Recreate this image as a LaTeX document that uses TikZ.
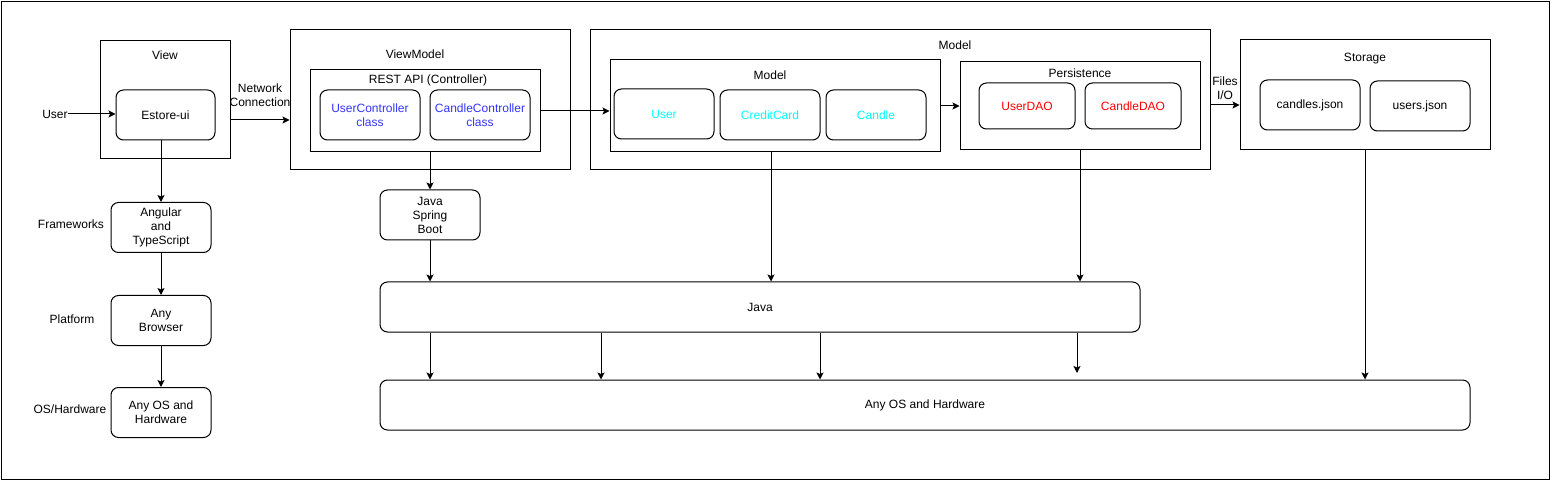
\documentclass[tikz,border=0pt]{standalone}
\usepackage{fontspec}
\setmainfont{Liberation Sans}
\usetikzlibrary{arrows.meta}
\definecolor{ctlblue}{HTML}{3333FF}
\definecolor{mdlcyan}{HTML}{00FFFF}
\definecolor{daored}{HTML}{FF0000}
\tikzset{
  rbox/.style={draw, line width=1pt, rounded corners=7.5pt, minimum width=100pt, minimum height=50pt, align=center, inner sep=0pt, font=\fontsize{12}{14}\selectfont},
  cbox/.style={draw, line width=1pt, inner sep=0pt},
  lbl/.style={inner sep=0pt, align=center, font=\fontsize{12}{14}\selectfont},
  arr/.style={draw, line width=1pt, -{Stealth[length=7pt,width=7pt,inset=1.5pt]}}
}
\begin{document}
\begin{tikzpicture}[x=1pt,y=-1pt]
\useasboundingbox (0,0) rectangle (1551,481);
\node[cbox, minimum width=1548pt, minimum height=478pt] (frame) at (775.5,240.5) {};

% View column
\node[cbox, minimum width=130pt, minimum height=118pt] (view) at (165,100) {};
\node[lbl] (viewt) at (165,55) {View};
\node[rbox, minimum width=99pt] (estore) at (165.5,115) {Estore-ui};
\node[lbl] (user) at (55,114) {User};
\node[rbox] (angular) at (161,227.5) {Angular\\and\\TypeScript};
\node[rbox] (browser) at (161,320.5) {Any\\Browser};
\node[rbox] (oshw) at (161,412.5) {Any OS and\\Hardware};
\node[lbl] (fw) at (71,224) {Frameworks};
\node[lbl] (pf) at (72,319) {Platform};
\node[lbl] (oh) at (70,409) {OS/Hardware};
\node[lbl] (netc) at (260,95) {Network\\Connection};

% ViewModel
\node[cbox, minimum width=280pt, minimum height=140pt] (vm) at (430,100) {};
\node[lbl] (vmt) at (415,54) {ViewModel};
\node[cbox, minimum width=230pt, minimum height=82pt] (rest) at (425,111) {};
\node[lbl] (restt) at (428,80) {REST API (Controller)};
\node[rbox, text=ctlblue] (uc) at (370,115) {UserController\\class};
\node[rbox, text=ctlblue] (cc) at (480,115) {CandleController\\class};
\node[rbox] (jsb) at (430,215) {Java\\Spring\\Boot};

% Model
\node[cbox, minimum width=620pt, minimum height=140pt] (mout) at (900,100) {};
\node[lbl] (moutt) at (955,45) {Model};
\node[cbox, minimum width=330pt, minimum height=92pt] (min) at (775,106) {};
\node[lbl] (mint) at (770,75) {Model};
\node[rbox, text=mdlcyan] (usr) at (664,114) {User};
\node[rbox, text=mdlcyan] (credit) at (770,115) {CreditCard};
\node[rbox, text=mdlcyan] (candle) at (876,115) {Candle};
\node[cbox, minimum width=240pt, minimum height=88pt] (pers) at (1080,106) {};
\node[lbl] (perst) at (1080,73) {Persistence};
\node[rbox, minimum width=96pt, minimum height=46pt, text=daored] (udao) at (1027,106) {UserDAO};
\node[rbox, minimum width=96pt, minimum height=46pt, text=daored] (cdao) at (1133,106) {CandleDAO};
\node[lbl] (fio) at (1225,88) {Files\\I/O};

% Storage
\node[cbox, minimum width=250pt, minimum height=110pt] (stor) at (1365,95) {};
\node[lbl] (stort) at (1365,59) {Storage};
\node[rbox] (cjson) at (1310,105) {candles.json};
\node[rbox] (ujson) at (1420,106) {users.json};

% Bottom layers
\node[rbox, minimum width=760pt] (java) at (760,307) {Java};
\node[rbox, minimum width=1090pt] (osbig) at (925,405) {Any OS and Hardware};

% helper coordinates
\coordinate (nc) at (0,120);
\coordinate (fy) at (0,105);
\coordinate (xm) at (771,0);
\coordinate (xa) at (430,0);
\coordinate (xb) at (601,0);
\coordinate (xc) at (820,0);
\coordinate (xd) at (1077,0);
\coordinate (xdend) at (0,373);

% connectors
\draw[arr] (user.east) -- (user.east -| estore.west);
\draw[arr] (estore.south -| angular.north) -- (angular.north);
\draw[arr] (angular.south) -- (browser.north);
\draw[arr] (browser.south) -- (oshw.north);
\draw[arr] (view.east |- nc) -- (vm.west |- nc);
\draw[arr] (rest.east) -- (rest.east -| min.west);
\draw[arr] (rest.south -| jsb.north) -- (jsb.north);
\draw[arr] (jsb.south) -- (jsb.south |- java.north);
\draw[arr] (min.east) -- (min.east -| pers.west);
\draw[arr] (mout.east |- fy) -- (stor.west |- fy);
\draw[arr] (min.south -| xm) -- (java.north -| xm);
\draw[arr] (pers.south) -- (pers.south |- java.north);
\draw[arr] (stor.south) -- (stor.south |- osbig.north);
\draw[arr] (java.south -| xa) -- (osbig.north -| xa);
\draw[arr] (java.south -| xb) -- (osbig.north -| xb);
\draw[arr] (java.south -| xc) -- (osbig.north -| xc);
\draw[arr] (java.south -| xd) -- (xdend -| xd);
\end{tikzpicture}
\end{document}
